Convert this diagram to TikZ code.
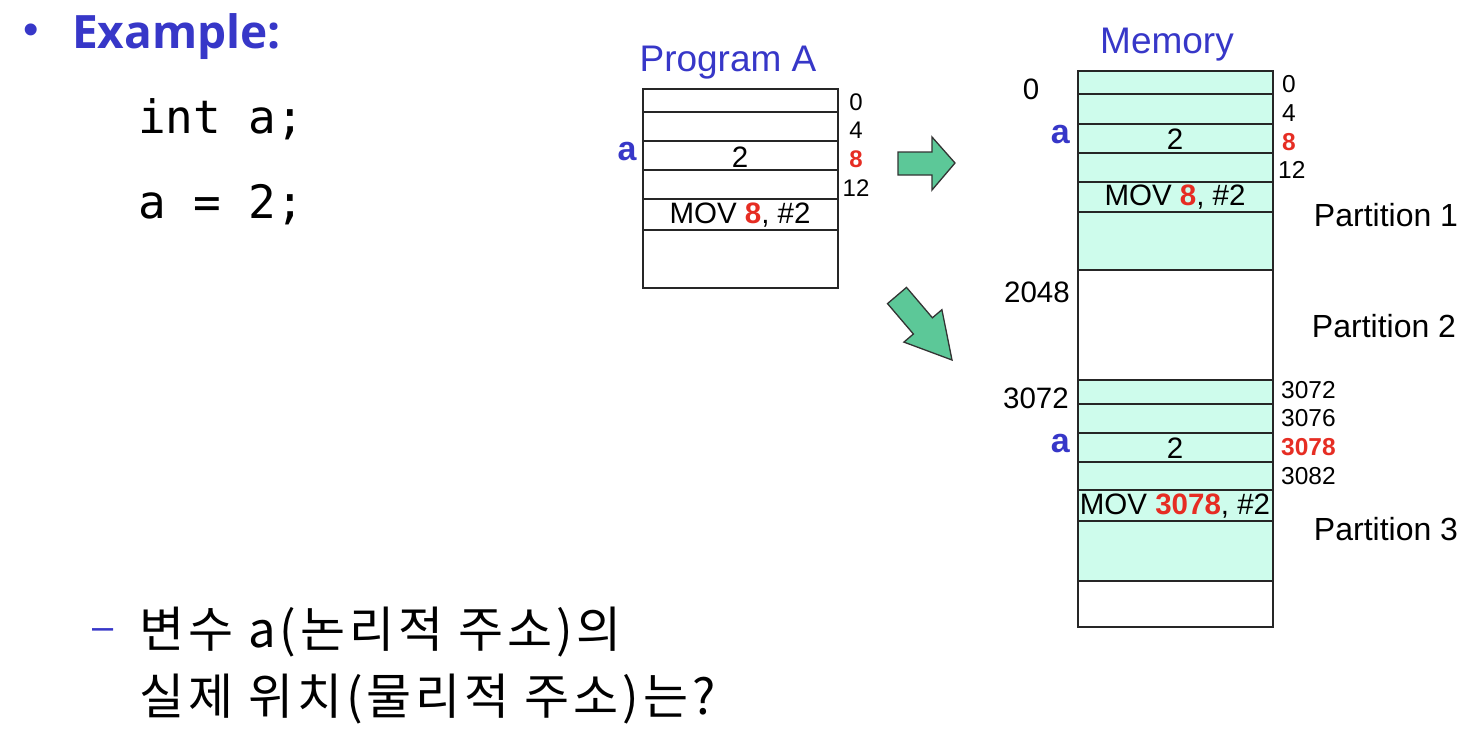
\documentclass[tikz,border=0pt]{standalone}
\usepackage{fontspec}
\setmainfont{Liberation Sans}
\newfontfamily\krfont[LetterSpace=8]{Noto Sans CJK KR}
\newfontfamily\exfont{Open Sans}
\newfontfamily\codefont{DejaVu Sans Mono}
\definecolor{tblue}{RGB}{55,55,200}
\definecolor{tred}{RGB}{230,45,35}
\definecolor{memfill}{RGB}{206,252,236}
\definecolor{arrfill}{RGB}{92,200,152}
\tikzset{
  cellline/.style={line width=1.4pt, draw=black!85},
  boxline/.style={line width=1.6pt, draw=black!85},
  lbl/.style={inner sep=0pt, font=\fontsize{29.5}{31}\selectfont},
  addr/.style={inner sep=0pt, font=\fontsize{24.5}{26}\selectfont},
  paddr/.style={inner sep=0pt, font=\fontsize{24}{26}\selectfont},
  varlbl/.style={inner sep=0pt, text=tblue, font=\fontsize{34}{36}\selectfont\bfseries},
  title/.style={inner sep=0pt, text=tblue, font=\fontsize{37}{39}\selectfont},
  part/.style={inner sep=0pt, font=\fontsize{32}{34}\selectfont},
  blockarrow/.style={fill=arrfill, draw=black!80, line width=1.3pt, line join=miter},
}
\begin{document}
\begin{tikzpicture}[x=1pt,y=-1pt]
\useasboundingbox (0,0) rectangle (1482,744);

% ---------- left text ----------
\node[inner sep=0pt, text=tblue, font=\fontsize{44}{46}\selectfont] (bul) at (31,34) {\textbullet};
\node[inner sep=0pt, anchor=base west, text=tblue, font=\exfont\fontsize{46}{48}\selectfont\bfseries] (ex) at (72,48) {Example:};
\node[inner sep=0pt, anchor=base west, font=\codefont\fontsize{46}{48}\selectfont] (c1) at (138,133) {int a;};
\node[inner sep=0pt, anchor=base west, font=\codefont\fontsize{46}{48}\selectfont] (c2) at (138,218) {a = 2;};
\node[inner sep=0pt, anchor=base, text=tblue, font=\fontsize{38}{40}\selectfont] (dash) at (103,639) {--};
\node[inner sep=0pt, anchor=base west, font=\krfont\fontsize{49}{51}\selectfont] (k1) at (139,647) {변수 a(논리적 주소)의};
\node[inner sep=0pt, anchor=base west, font=\krfont\fontsize{49}{51}\selectfont] (k2) at (139,714) {실제 위치(물리적 주소)는?};

% ---------- Program A ----------
\node[title] (pa) at (728,63) {Program A};
\draw[boxline] (643,89) rectangle (838,288);
\foreach \yy in {112,141,170,199,230} \draw[cellline] (643,\yy) -- (838,\yy);
\node[lbl] (pa2) at (740,157) {2};
\node[lbl] (pamov) at (740,215) {MOV \textcolor{tred}{\textbf{8}}, \#2};
\node[varlbl] (paa) at (627,152) {a};
\node[paddr] (pa0) at (856,102) {0};
\node[paddr] (pa4) at (856,130) {4};
\node[paddr, text=tred, font=\fontsize{24}{26}\selectfont\bfseries] (pa8) at (856,159) {8};
\node[paddr] (pa12) at (856,188) {12};

% ---------- arrows ----------
\draw[blockarrow] (898,152) -- (932,152) -- (932,137) -- (955,163) -- (932,190) -- (932,175) -- (898,175) -- cycle;
\draw[blockarrow] (887.5,303.6) -- (906.5,287.4) -- (932.4,317.8) -- (941.9,309.7) -- (952,360) -- (903.9,342.1) -- (913.4,334.0) -- cycle;

% ---------- Memory ----------
\node[title] (mem) at (1167,45) {Memory};
\fill[memfill] (1078,71) rectangle (1273,270);
\fill[memfill] (1078,380) rectangle (1273,581);
\draw[boxline] (1078,71) rectangle (1273,627);
\foreach \yy in {94,124,153,182,212,270,380,404,433,462,490,521,581} \draw[cellline] (1078,\yy) -- (1273,\yy);

\node[lbl] (m2a) at (1175,139) {2};
\node[lbl] (mmova) at (1175,197) {MOV \textcolor{tred}{\textbf{8}}, \#2};
\node[lbl] (m2b) at (1175,448) {2};
\node[lbl] (mmovb) at (1175,506) {MOV \textcolor{tred}{\textbf{3078}}, \#2};

\node[lbl] (ml0) at (1031,89) {0};
\node[varlbl, anchor=east] (mla1) at (1070,135) {a};
\node[lbl, anchor=east] (ml2048) at (1070,292) {2048};
\node[lbl, anchor=east] (ml3072) at (1069,398) {3072};
\node[varlbl, anchor=east] (mla2) at (1070,444) {a};

\node[addr, anchor=west] (mr0) at (1282,84) {0};
\node[addr, anchor=west] (mr4) at (1282,113) {4};
\node[addr, anchor=west, text=tred, font=\fontsize{24.5}{26}\selectfont\bfseries] (mr8) at (1282,142) {8};
\node[addr, anchor=west] (mr12) at (1278,170) {12};
\node[addr, anchor=west] (mr3072) at (1281,390) {3072};
\node[addr, anchor=west] (mr3076) at (1281,418) {3076};
\node[addr, anchor=west, text=tred, font=\fontsize{24.5}{26}\selectfont\bfseries] (mr3078) at (1281,447) {3078};
\node[addr, anchor=west] (mr3082) at (1281,476) {3082};

\node[part] (p1) at (1386,215) {Partition 1};
\node[part] (p2) at (1384,326) {Partition 2};
\node[part] (p3) at (1386,529) {Partition 3};
\end{tikzpicture}
\end{document}
